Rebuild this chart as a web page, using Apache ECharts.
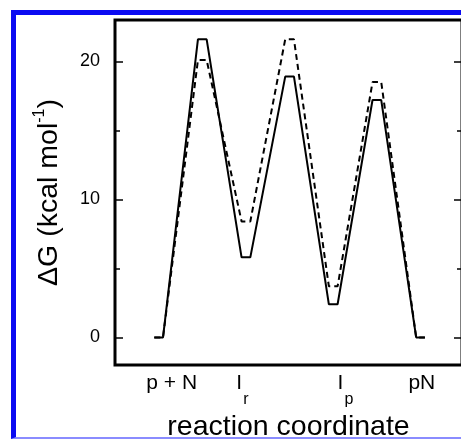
<!DOCTYPE html>
<html>
<head>
<meta charset="utf-8">
<script src="https://cdn.jsdelivr.net/npm/echarts@6/dist/echarts.min.js"></script>
<style>
html, body { margin: 0; padding: 0; background: #fff; }
#wrap { position: relative; width: 461px; height: 439px; overflow: hidden; }
#chart { width: 461px; height: 439px; }
#frame {
    position: absolute; left: 11px; top: 10px; width: 470px; height: 422px;
    border-left: 5px solid #0b0bf2; border-top: 5px solid #0b0bf2;
    border-bottom: 2px solid #8a8cff; pointer-events: none;
}
</style>
</head>
<body>
<div id="wrap">
    <div id="chart"></div>
    <div id="frame"></div>
</div>
<script>
// states along the reaction coordinate: p+N, TS1, Ir, TS2, Ip, TS3, pN
var states = [0, 1, 2, 3, 4, 5, 6];
var solidG = [0, 21.6, 5.8, 18.9, 2.4, 17.2, 0];
var dashedG = [0, 20.1, 8.4, 21.6, 3.7, 18.5, 0];
var labelPos = [0.3, 1.92, 4.28, 6.03];
var labelText = ['p + N', 'I{sub|r}', 'I{sub|p}', 'pN'];
var yMajor = [0, 10, 20];
var yMinor = [5, 15];

var halfStep = 0.1;
function profile(values) {
    var pts = [];
    states.forEach(function (s, i) {
        pts.push([s - halfStep, values[i]]);
        pts.push([s + halfStep, values[i]]);
    });
    return pts;
}

var font = 'Liberation Sans';
var chart = echarts.init(document.getElementById('chart'));

function tickAxis(pos, values, len, withLabel) {
    return {
        type: 'value',
        position: pos,
        min: -2,
        max: 23,
        axisLine: { show: false, onZero: false },
        splitLine: { show: false },
        axisTick: { inside: true, length: len, customValues: values, lineStyle: { color: '#000', width: 1.5 } },
        axisLabel: withLabel ? {
            customValues: values, color: '#000', fontSize: 18, fontFamily: font, margin: 15
        } : { show: false }
    };
}

var leftAxis = tickAxis('left', yMajor, 8, true);
leftAxis.name = 'ΔG (kcal mol{sup|-1})';
leftAxis.nameLocation = 'middle';
leftAxis.nameGap = 49;
leftAxis.nameTextStyle = {
    color: '#000', fontSize: 28.5, fontFamily: font, lineHeight: 34,
    rich: { sup: { fontSize: 16, fontFamily: font, color: '#000', verticalAlign: 'top', lineHeight: 16, padding: [0, 0, 18, 0] } }
};

chart.setOption({
    animation: false,
    grid: {
        left: 115, top: 20, right: -1, bottom: 74, outerBoundsMode: 'none',
        show: true, borderColor: '#000', borderWidth: 3
    },
    xAxis: {
        type: 'value',
        min: -1,
        max: 6.95,
        axisLine: { show: false, onZero: false },
        axisTick: { show: false },
        splitLine: { show: false },
        axisLabel: {
            customValues: labelPos,
            color: '#000', fontSize: 21, fontFamily: font, margin: -6, lineHeight: 49,
            formatter: function (v) { return labelText[labelPos.indexOf(v)]; },
            rich: { sub: { fontSize: 16, fontFamily: font, color: '#000', lineHeight: 16, padding: [33, 0, 0, 1] } }
        },
        name: 'reaction coordinate',
        nameLocation: 'middle',
        nameGap: 47,
        nameTextStyle: { color: '#000', fontSize: 28.5, fontFamily: font, verticalAlign: 'top' }
    },
    yAxis: [
        leftAxis,
        tickAxis('left', yMinor, 5, false),
        tickAxis('right', yMajor, 8, false),
        tickAxis('right', yMinor, 5, false)
    ],
    series: [
        {
            type: 'line', yAxisIndex: 0, data: profile(solidG), symbol: 'none',
            lineStyle: { color: '#000', width: 2 }
        },
        {
            type: 'line', yAxisIndex: 0, data: profile(dashedG), symbol: 'none',
            lineStyle: { color: '#000', width: 2, type: [6, 4] }
        }
    ]
});
</script>
</body>
</html>
